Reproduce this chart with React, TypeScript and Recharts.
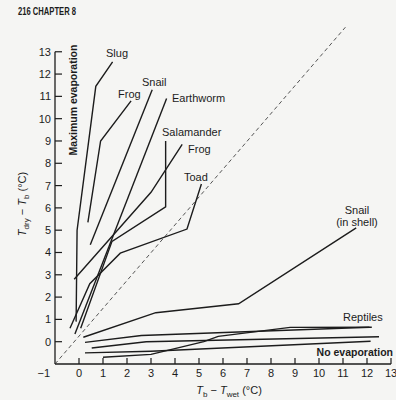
import { LineChart, Line, XAxis, YAxis, ReferenceLine } from 'recharts';

// T_b - T_wet (x) vs T_dry - T_b (y)
const slug = [
  { x: -0.12, y: 0.9 },
  { x: -0.08, y: 5.0 },
  { x: 0.7, y: 11.45 },
  { x: 1.4, y: 12.55 },
];
const frogUpper = [
  { x: 0.37, y: 5.35 },
  { x: 0.9, y: 9.0 },
  { x: 2.17, y: 10.8 },
];
const snail = [
  { x: 0.47, y: 4.35 },
  { x: 3.05, y: 11.3 },
];
const earthworm = [
  { x: -0.17, y: 0.35 },
  { x: 3.65, y: 10.9 },
];
const salamander = [
  { x: 0.07, y: 0.6 },
  { x: 1.375, y: 4.5 },
  { x: 3.61, y: 6.05 },
  { x: 3.61, y: 9.0 },
];
const frogLower = [
  { x: -0.2, y: 2.8 },
  { x: 3.0, y: 6.7 },
  { x: 4.3, y: 8.85 },
];
const toad = [
  { x: -0.375, y: 0.6 },
  { x: 0.45, y: 2.6 },
  { x: 1.72, y: 3.97 },
  { x: 4.5, y: 5.05 },
  { x: 5.1, y: 7.07 },
];
const snailInShell = [
  { x: 0.18, y: 0.2 },
  { x: 3.2, y: 1.3 },
  { x: 6.65, y: 1.7 },
  { x: 11.55, y: 5.1 },
];
const reptileA = [
  { x: 0.25, y: -0.03 },
  { x: 2.6, y: 0.28 },
  { x: 12.1, y: 0.65 },
];
const reptileB = [
  { x: 0.53, y: -0.28 },
  { x: 2.8, y: 0.0 },
  { x: 12.5, y: 0.22 },
];
const reptileC = [
  { x: 0.25, y: -0.5 },
  { x: 3.0, y: -0.43 },
  { x: 12.15, y: 0.02 },
];
const reptileD = [
  { x: 1.0, y: -0.7 },
  { x: 3.0, y: -0.57 },
  { x: 5.2, y: 0.0 },
  { x: 5.8, y: 0.24 },
  { x: 8.8, y: 0.64 },
  { x: 12.2, y: 0.65 },
];

const allSeries = [
  slug, frogUpper, snail, earthworm, salamander, frogLower, toad,
  snailInShell, reptileA, reptileB, reptileC, reptileD,
];

const xTicks = [-1, 0, 1, 2, 3, 4, 5, 6, 7, 8, 9, 10, 11, 12, 13];
const yTicks = [0, 1, 2, 3, 4, 5, 6, 7, 8, 9, 10, 11, 12, 13];
const diagonal = [
  { x: -1, y: -1 },
  { x: 11.1, y: 14.1 },
];

const INK = '#1c1c1c';
const FONT = '"Liberation Sans", Arial, sans-serif';

function XTick(props: any) {
  const { x, y, payload } = props;
  const v = payload.value as number;
  return (
    <g>
      {v !== -1 && <line x1={x} x2={x} y1={y} y2={y - 6} stroke={INK} strokeWidth={1.2} />}
      <text
        x={v === -1 ? x - 5 : x}
        y={y + 13}
        textAnchor={v === -1 ? 'end' : 'middle'}
        fontSize={11}
        fontFamily={FONT}
        fill={INK}
      >
        {v === -1 ? '\u22121' : v}
      </text>
    </g>
  );
}

function YTick(props: any) {
  const { x, y, payload } = props;
  return (
    <g>
      <line x1={x} x2={x + 7} y1={y} y2={y} stroke={INK} strokeWidth={1.2} />
      <text x={x - 4} y={y + 4} textAnchor="end" fontSize={11} fontFamily={FONT} fill={INK}>
        {payload.value}
      </text>
    </g>
  );
}

export default function App() {
  return (
    <div style={{ position: 'absolute', left: 0, top: 0, width: 396, height: 400, background: '#f5f5f3' }}>
      <LineChart width={396} height={400} margin={{ top: 25, right: 5, bottom: 6, left: 25 }}>
        <XAxis
          type="number"
          dataKey="x"
          domain={[-1, 13]}
          ticks={xTicks}
          interval={0}
          height={30}
          tickSize={0}
          tickMargin={0}
          tickLine={false}
          axisLine={{ stroke: INK, strokeWidth: 1.3 }}
          tick={(p: any) => <XTick {...p} />}
          allowDataOverflow
        />
        <YAxis
          type="number"
          dataKey="y"
          domain={[-1, 14.2]}
          ticks={yTicks}
          interval={0}
          width={30}
          tickSize={0}
          tickMargin={0}
          tickLine={false}
          axisLine={false}
          tick={(p: any) => <YTick {...p} />}
          allowDataOverflow
        />
        <ReferenceLine
          segment={[{ x: -1, y: -1 }, { x: -1, y: 13 }]}
          stroke={INK}
          strokeWidth={1.3}
        />
        <ReferenceLine segment={diagonal} stroke="#555" strokeWidth={1} strokeDasharray="4 3" />
        {allSeries.map((s, i) => (
          <Line
            key={i}
            data={s}
            dataKey="y"
            type="linear"
            stroke={INK}
            strokeWidth={1.4}
            dot={false}
            isAnimationActive={false}
          />
        ))}
      </LineChart>
      <svg
        width={396}
        height={400}
        style={{ position: 'absolute', left: 0, top: 0, pointerEvents: 'none' }}
        fontFamily={FONT}
        fill={INK}
      >
        <text x={18} y={15} fontSize={10} fontWeight="bold" textLength={58} lengthAdjust="spacingAndGlyphs">
          216 CHAPTER 8
        </text>
        <text x={106} y={57} fontSize={11}>Slug</text>
        <text x={142} y={86} fontSize={11}>Snail</text>
        <text x={118} y={98} fontSize={11}>Frog</text>
        <text x={172} y={102} fontSize={11}>Earthworm</text>
        <text x={162} y={136} fontSize={11}>Salamander</text>
        <text x={188} y={153} fontSize={11}>Frog</text>
        <text x={184} y={181} fontSize={11}>Toad</text>
        <text x={357} y={214} fontSize={11} textAnchor="middle">Snail</text>
        <text x={357} y={226} fontSize={11} textAnchor="middle">(in shell)</text>
        <text x={343} y={321} fontSize={11}>Reptiles</text>
        <text x={393} y={356} fontSize={10.5} fontWeight="bold" textAnchor="end">No evaporation</text>
        <text
          x={0}
          y={0}
          fontSize={10.5}
          fontWeight="bold"
          textAnchor="middle"
          transform="translate(77,100) rotate(-90)"
        >
          Maximum evaporation
        </text>
        <text x={0} y={0} fontSize={11} textAnchor="middle" transform="translate(26,204) rotate(-90)">
          <tspan fontStyle="italic">T</tspan>
          <tspan fontSize={8} dy={3}>dry</tspan>
          <tspan dy={-3}> {'\u2212'} </tspan>
          <tspan fontStyle="italic">T</tspan>
          <tspan fontSize={8} dy={3}>b</tspan>
          <tspan dy={-3}> (°C)</tspan>
        </text>
        <text x={229} y={394} fontSize={11} textAnchor="middle">
          <tspan fontStyle="italic">T</tspan>
          <tspan fontSize={8} dy={3}>b</tspan>
          <tspan dy={-3}> {'\u2212'} </tspan>
          <tspan fontStyle="italic">T</tspan>
          <tspan fontSize={8} dy={3}>wet</tspan>
          <tspan dy={-3}> (°C)</tspan>
        </text>
      </svg>
    </div>
  );
}
